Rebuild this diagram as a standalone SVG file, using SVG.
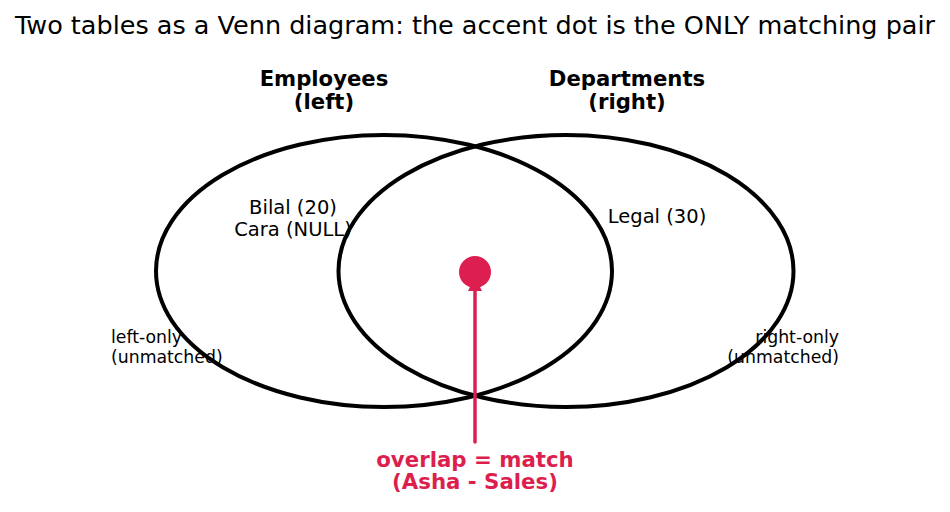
<svg xmlns="http://www.w3.org/2000/svg" width="950" height="512" viewBox="0 0 950 512">
<style>
text{font-family:"DejaVu Sans","Noto Sans",sans-serif;fill:#000}
.title{font-size:25.5px}
.hdr{font-size:21.2px;font-weight:bold;text-anchor:middle}
.item{font-size:19.5px;text-anchor:middle}
.side{font-size:17.3px}
.acc{font-size:21.3px;font-weight:bold;text-anchor:middle;fill:#dc1f4e}
.set{fill:none;stroke:#000;stroke-width:4}
</style>
<defs>
<marker id="ah" viewBox="0 0 10 10" refX="10" refY="5" markerWidth="4" markerHeight="4" orient="auto"><path d="M0,0L10,5L0,10z" fill="#dc1f4e"/></marker>
</defs>
<rect width="950" height="512" fill="#fff"/>
<text class="title" x="475" y="34" text-anchor="middle">Two tables as a Venn diagram: the accent dot is the ONLY matching pair</text>
<g id="label-employees"><text class="hdr" x="324" y="86">Employees</text><text class="hdr" x="324" y="109">(left)</text></g>
<g id="label-departments"><text class="hdr" x="627" y="86">Departments</text><text class="hdr" x="627" y="109">(right)</text></g>
<g id="left-items"><text class="item" x="293" y="214">Bilal (20)</text><text class="item" x="293" y="236">Cara (NULL)</text></g>
<g id="right-items"><text class="item" x="657" y="223">Legal (30)</text></g>
<g id="left-only"><text class="side" x="111" y="343">left-only</text><text class="side" x="111" y="363">(unmatched)</text></g>
<g id="right-only"><text class="side" x="839" y="343" text-anchor="end">right-only</text><text class="side" x="839" y="363" text-anchor="end">(unmatched)</text></g>
<g id="employees"><ellipse class="set" cx="384" cy="271" rx="228" ry="136"/></g>
<g id="departments"><ellipse class="set" cx="566" cy="271" rx="227.5" ry="136"/></g>
<g id="connectors"><line x1="475" y1="442" x2="475" y2="277" stroke="#dc1f4e" stroke-width="3.5" stroke-linecap="round" marker-end="url(#ah)"/></g>
<g id="match-dot"><circle cx="475" cy="272" r="16" fill="#dc1f4e"/></g>
<g id="match-label"><text class="acc" x="475" y="467">overlap = match</text><text class="acc" x="475" y="489">(Asha - Sales)</text></g>
</svg>
